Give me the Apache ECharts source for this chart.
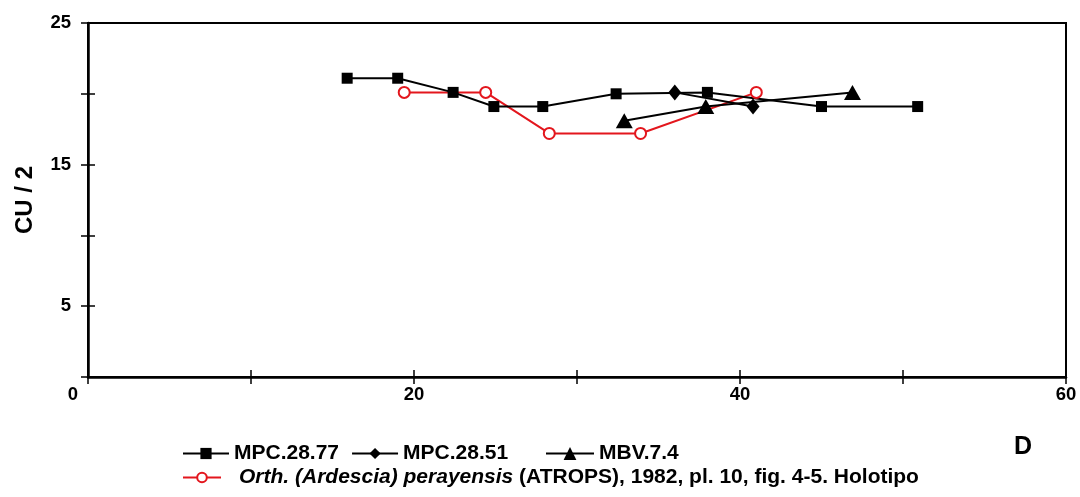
<!DOCTYPE html>
<html>
<head>
<meta charset="utf-8">
<script src="https://cdn.jsdelivr.net/npm/echarts@6/dist/echarts.min.js"></script>
<style>
  html, body { margin: 0; padding: 0; background: #fff; }
  #chart { width: 1080px; height: 497px; }
</style>
</head>
<body>
<div id="chart"></div>
<script>
// data: [D, CU/2]
var mpc2877 = [[15.9, 21.1], [19.0, 21.1], [22.4, 20.1], [24.9, 19.1], [27.9, 19.1], [32.4, 20.0], [38.0, 20.1], [45.0, 19.1], [50.9, 19.1]];
var mpc2851 = [[36.0, 20.1], [40.8, 19.1]];
var mbv74 = [[32.9, 18.1], [37.9, 19.1], [46.9, 20.1]];
var holotipo = [[19.4, 20.1], [24.4, 20.1], [28.3, 17.2], [33.9, 17.2], [41.0, 20.1]];

var redName = 'Orth. (Ardescia) perayensis (ATROPS), 1982, pl. 10, fig. 4-5. Holotipo';
var fontFam = '"Liberation Sans", Arial, sans-serif';

var chart = echarts.init(document.getElementById('chart'));

var lbl = { fontFamily: fontFam, fontWeight: 'bold', fontSize: 18.5, color: '#000' };
var legText = { fontFamily: fontFam, fontWeight: 'bold', fontSize: 21, color: '#000' };

var option = {
    animation: false,
    grid: {
        left: 88, right: 14, top: 23, bottom: 120,
        show: true, borderColor: '#000', borderWidth: 2
    },
    xAxis: [
        {
            type: 'value', min: 0, max: 60, interval: 10,
            axisLine: { show: true, onZero: false, lineStyle: { color: '#000', width: 2.5 } },
            axisTick: { show: true, length: 7, lineStyle: { color: '#000', width: 1.5 } },
            axisLabel: Object.assign({
                margin: 8,
                formatter: function (v) { return v === 0 ? '{z|0}' : (v % 20 === 0 ? v : ''); },
                rich: { z: { fontFamily: fontFam, fontWeight: 'bold', fontSize: 18.5, color: '#000', padding: [0, 30, 0, 0] } }
            }, lbl),
            splitLine: { show: false }
        },
        {
            type: 'value', min: 0, max: 60, interval: 10, position: 'bottom',
            axisLine: { show: false },
            axisTick: { show: true, inside: true, length: 7, lineStyle: { color: '#000', width: 1.5 } },
            axisLabel: { show: false },
            splitLine: { show: false }
        }
    ],
    yAxis: [
        {
            type: 'value', min: 0, max: 25, interval: 5,
            name: 'CU / 2', nameLocation: 'middle', nameGap: 51,
            nameTextStyle: { fontFamily: fontFam, fontWeight: 'bold', fontSize: 24, color: '#000' },
            axisLine: { show: true, onZero: false, lineStyle: { color: '#000', width: 2.5 } },
            axisTick: { show: true, length: 7, lineStyle: { color: '#000', width: 1.5 } },
            axisLabel: Object.assign({
                margin: 17,
                formatter: function (v) { return (v % 10 === 5) ? v : ''; }
            }, lbl),
            splitLine: { show: false }
        },
        {
            type: 'value', min: 0, max: 25, interval: 5, position: 'left',
            axisLine: { show: false },
            axisTick: { show: true, inside: true, length: 7, lineStyle: { color: '#000', width: 1.5 } },
            axisLabel: { show: false },
            splitLine: { show: false }
        }
    ],
    legend: [
        {
            left: 177, top: 438, itemWidth: 46, itemHeight: 14, itemGap: 12,
            data: ['MPC.28.77', 'MPC.28.51'],
            textStyle: legText
        },
        {
            left: 540, top: 438, itemWidth: 48, itemHeight: 16,
            data: ['MBV.7.4'],
            textStyle: legText
        },
        {
            left: 177, top: 462, itemWidth: 38, itemHeight: 12,
            data: [redName],
            formatter: function () {
                return '{i|Orth. (Ardescia) perayensis} (ATROPS), 1982, pl. 10, fig. 4-5. Holotipo';
            },
            textStyle: {
                fontFamily: fontFam, fontWeight: 'bold', fontSize: 21, color: '#000', padding: [0, 0, 0, 13],
                rich: { i: { fontFamily: fontFam, fontWeight: 'bold', fontStyle: 'italic', fontSize: 21, color: '#000' } }
            }
        }
    ],
    graphic: [
        { type: 'text', left: 1014, top: 435, style: { text: 'D', font: 'bold 25px "Liberation Sans", Arial', fill: '#000' } }
    ],
    series: [
        {
            name: redName, type: 'line', data: holotipo,
            symbol: 'emptyCircle', symbolSize: 11,
            lineStyle: { color: '#e3161d', width: 2 },
            itemStyle: { color: '#e3161d', borderColor: '#e3161d', borderWidth: 2 }
        },
        {
            name: 'MPC.28.77', type: 'line', data: mpc2877,
            symbol: 'rect', symbolSize: 11,
            lineStyle: { color: '#000', width: 2 },
            itemStyle: { color: '#000' }
        },
        {
            name: 'MPC.28.51', type: 'line', data: mpc2851,
            symbol: 'diamond', symbolSize: [13, 16],
            lineStyle: { color: '#000', width: 2 },
            itemStyle: { color: '#000' }
        },
        {
            name: 'MBV.7.4', type: 'line', data: mbv74,
            symbol: 'triangle', symbolSize: [17, 15],
            lineStyle: { color: '#000', width: 2 },
            itemStyle: { color: '#000' }
        }
    ]
};

chart.setOption(option);
</script>
</body>
</html>
